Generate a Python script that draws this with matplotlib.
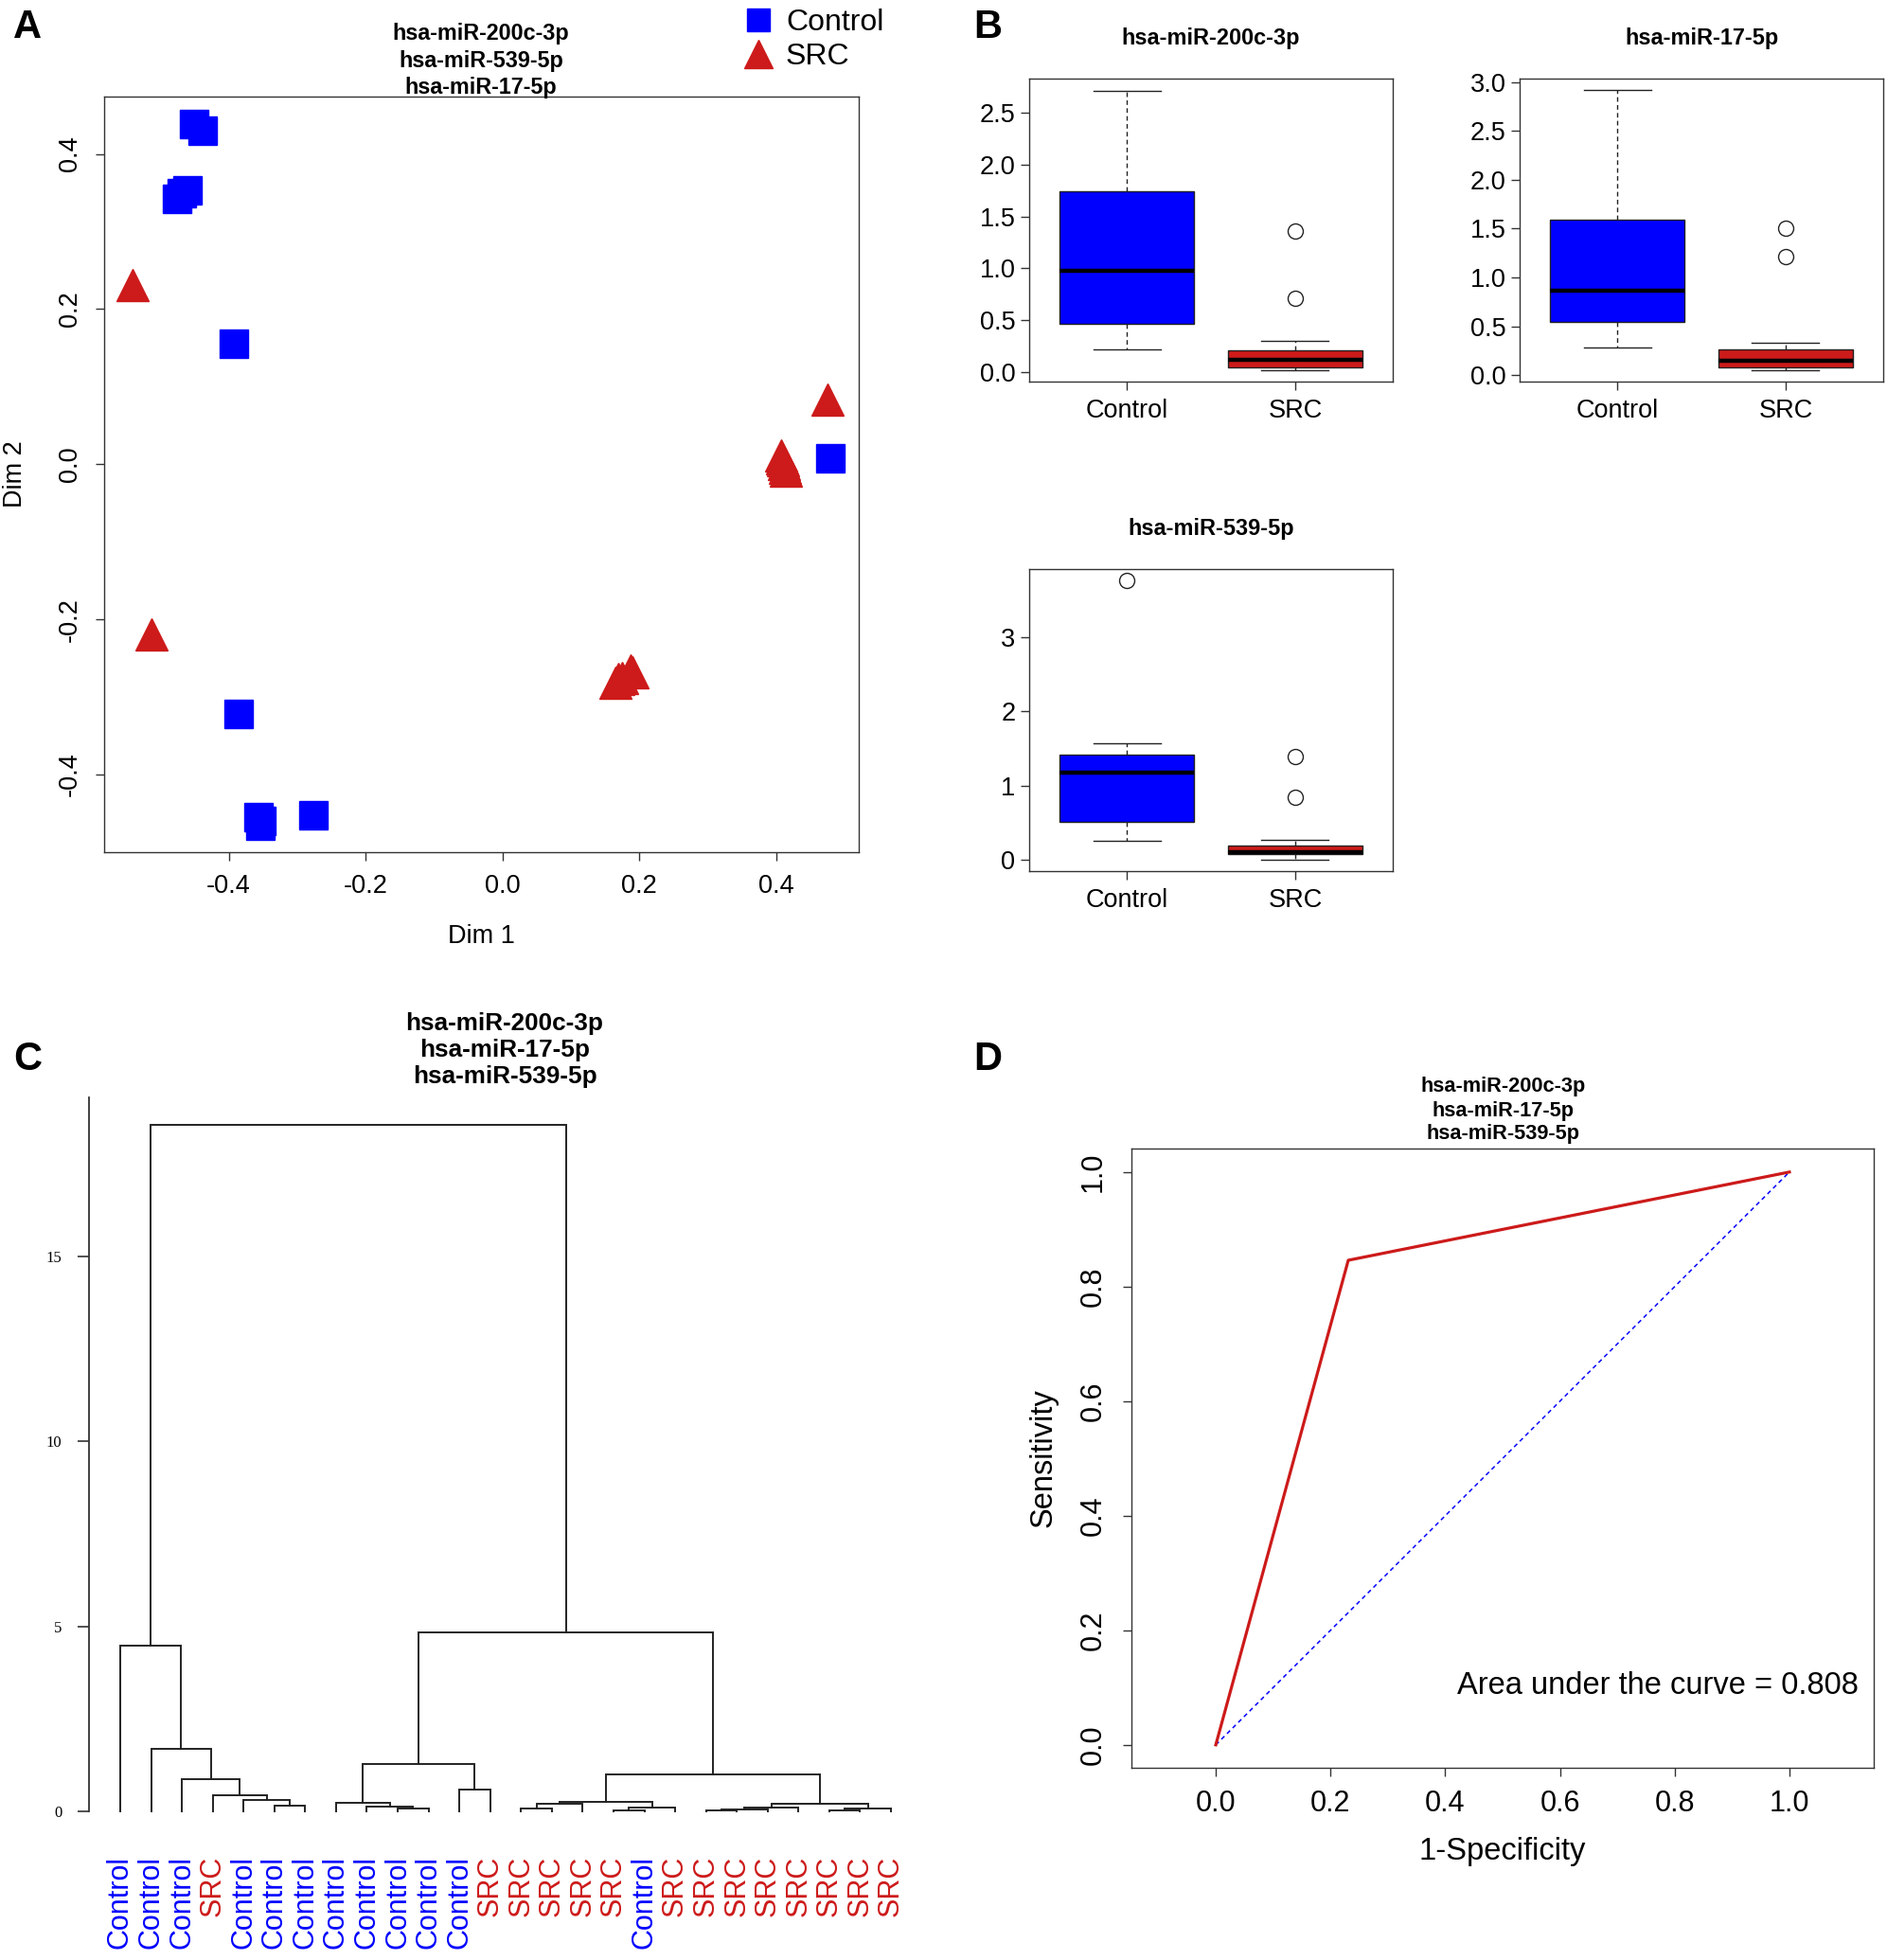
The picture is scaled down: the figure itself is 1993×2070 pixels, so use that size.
import matplotlib
matplotlib.use('Agg')
import matplotlib.pyplot as plt
import numpy as np

plt.rcParams['font.family'] = ['Liberation Sans', 'DejaVu Sans']

W, H = 1993, 2070
BLUE = '#0000FF'
RED = '#CD1A1A'

# ---- data -------------------------------------------------------------
# A: MDS coordinates
ctrl_x = [-0.450, -0.438, -0.475, -0.468, -0.460, -0.392, -0.385,
          -0.356, -0.352, -0.354, -0.276, 0.479]
ctrl_y = [0.438, 0.430, 0.342, 0.350, 0.353, 0.155, -0.322,
          -0.455, -0.460, -0.466, -0.452, 0.008]
src_x = [-0.541, -0.513, 0.408, 0.410, 0.413, 0.415, 0.411, 0.409,
         0.476, 0.165, 0.170, 0.175, 0.187, 0.190]
src_y = [0.231, -0.219, 0.012, 0.005, -0.004, -0.008, 0.000, 0.008,
         0.083, -0.281, -0.277, -0.275, -0.266, -0.268]

title3_A = "hsa-miR-200c-3p\nhsa-miR-539-5p\nhsa-miR-17-5p"
title3_C = "hsa-miR-200c-3p\nhsa-miR-17-5p\nhsa-miR-539-5p"

# B: box plot summaries (whislo, q1, med, q3, whishi, outliers)
mirnas = ["hsa-miR-200c-3p", "hsa-miR-17-5p", "hsa-miR-539-5p"]
box_ctrl = [[0.22, 0.47, 0.98, 1.74, 2.71, []],
            [0.28, 0.54, 0.86, 1.59, 2.92, []],
            [0.26, 0.51, 1.18, 1.42, 1.57, [3.77]]]
box_src = [[0.02, 0.05, 0.12, 0.21, 0.30, [0.71, 1.36]],
           [0.05, 0.08, 0.15, 0.26, 0.33, [1.21, 1.50]],
           [0.00, 0.08, 0.10, 0.20, 0.27, [0.84, 1.40]]]
groups = ["Control", "SRC"]

# C: hierarchical clustering (R style merge table; negative = leaf)
leaf_labels = (["Control"] * 3 + ["SRC"] + ["Control"] * 8 + ["SRC"] * 5
               + ["Control"] + ["SRC"] * 8)
merges = [(-6, -7, 0.15), (-5, 1, 0.30), (-4, 2, 0.44), (-3, 3, 0.86),
          (-2, 4, 1.68), (-1, 5, 4.48),
          (-10, -11, 0.07), (-9, 7, 0.14), (-8, 8, 0.23), (-12, -13, 0.58),
          (9, 10, 1.28),
          (-14, -15, 0.085), (12, -16, 0.21), (-17, -18, 0.03), (14, -19, 0.10),
          (13, 15, 0.25),
          (-20, -21, 0.02), (17, -22, 0.06), (18, -23, 0.10),
          (-24, -25, 0.02), (20, -26, 0.07), (19, 21, 0.21),
          (16, 22, 1.01), (11, 23, 4.83), (6, 24, 18.55)]

# D: ROC curve
fpr = [0.0, 0.231, 1.0]
tpr = [0.0, 0.846, 1.0]
auc = 0.808


def rect(l, t, r, b):
    return [l / W, 1 - b / H, (r - l) / W, (b - t) / H]


def r_style(ax, fs=19.5):
    for s in ax.spines.values():
        s.set_linewidth(1.0)
        s.set_color('#333333')
    ax.tick_params(direction='out', length=6.5, width=1.0, labelsize=fs,
                   top=False, right=False, color='#333333')


fig = plt.figure(figsize=(W / 100, H / 100), dpi=100)

# ---- A ----------------------------------------------------------------
axA = fig.add_axes(rect(110, 102, 907, 900))
axA.plot(ctrl_x, ctrl_y, 's', color=BLUE, ms=21, mec=BLUE, label='Control')
axA.plot(src_x, src_y, '^', color=RED, ms=25, mec=RED, label='SRC')
axA.set_xlim(-0.582, 0.521)
axA.set_ylim(-0.50, 0.474)
axA.set_xticks([-0.4, -0.2, 0.0, 0.2, 0.4])
axA.set_yticks([-0.4, -0.2, 0.0, 0.2, 0.4])
axA.set_xticklabels(['-0.4', '-0.2', '0.0', '0.2', '0.4'])
axA.set_yticklabels(['-0.4', '-0.2', '0.0', '0.2', '0.4'],
                    rotation=90, va='center')
r_style(axA)
axA.tick_params(axis='x', pad=10)
axA.tick_params(axis='y', pad=10)
axA.set_xlabel('Dim 1', fontsize=19.5)
axA.set_ylabel('Dim 2', fontsize=19.5)
axA.xaxis.set_label_coords(0.5, -0.111)
axA.xaxis.label.set_va('center')
axA.yaxis.set_label_coords(-0.118, 0.5)
axA.yaxis.label.set_va('center')
leg = axA.legend(loc='center left', bbox_to_anchor=(766 / W, 1 - 42 / H),
                 bbox_transform=fig.transFigure, frameon=False, fontsize=23,
                 markerscale=0.85, handletextpad=0.3, labelspacing=0.2,
                 handlelength=1.2, borderpad=0)
fig.text(508 / W, 1 - 64 / H, title3_A, ha='center', va='center',
         fontsize=16.8, fontweight='bold', linespacing=1.3)

# ---- B ----------------------------------------------------------------
b_rects = [(1087, 83, 1471, 403), (1605, 83, 1989, 403), (1087, 601, 1471, 920)]
b_ylims = [(-0.091, 2.83), (-0.067, 3.035), (-0.15, 3.92)]
b_ticks = [np.arange(0, 2.51, 0.5), np.arange(0, 3.01, 0.5), np.arange(0, 3.1, 1)]
b_fmt = ['%.1f', '%.1f', '%d']
b_title_y = [41, 41, 558]
for i in range(3):
    ax = fig.add_axes(rect(*b_rects[i]))
    stats = []
    for g, row in zip(groups, [box_ctrl[i], box_src[i]]):
        stats.append(dict(label=g, whislo=row[0], q1=row[1], med=row[2],
                          q3=row[3], whishi=row[4], fliers=row[5]))
    bp = ax.bxp(stats, positions=[1, 2], widths=0.8, capwidths=0.4,
                patch_artist=True, showfliers=True,
                boxprops=dict(edgecolor='#222222', linewidth=1.0),
                whiskerprops=dict(color='#222222', linewidth=1.0,
                                  linestyle=(0, (3.5, 2.5))),
                capprops=dict(color='#222222', linewidth=1.0),
                medianprops=dict(color='black', linewidth=3.2),
                flierprops=dict(marker='o', mfc='none', mec='#222222',
                                ms=11.5, mew=1.0))
    for patch, c in zip(bp['boxes'], [BLUE, RED]):
        patch.set_facecolor(c)
    ax.set_xlim(0.42, 2.58)
    ax.set_ylim(*b_ylims[i])
    ax.set_yticks(b_ticks[i])
    ax.set_yticklabels([b_fmt[i] % v for v in b_ticks[i]])
    ax.set_xticks([1, 2])
    ax.set_xticklabels(groups)
    r_style(ax)
    ax.tick_params(axis='x', pad=6.5)
    ax.tick_params(axis='y', pad=4)
    cx = (b_rects[i][0] + b_rects[i][2]) / 2
    fig.text(cx / W, 1 - b_title_y[i] / H, mirnas[i], ha='center',
             va='center', fontsize=16.9, fontweight='bold')

# ---- C ----------------------------------------------------------------
axC = fig.add_axes(rect(94, 1159, 960, 1913))
pos = {}


def node_xy(k):
    if k < 0:
        return (-k, 0.0)
    return pos[k]


for i, (a, b, h) in enumerate(merges, start=1):
    xa, ya = node_xy(a)
    xb, yb = node_xy(b)
    axC.plot([xa, xa, xb, xb], [ya, h, h, yb], color='#222222', lw=1.4,
             clip_on=False, solid_joinstyle='miter')
    pos[i] = ((xa + xb) / 2, h)

axC.set_xlim(1 - 33 / 32.56, 1 + (960 - 127) / 32.56)
axC.set_ylim(0, (1913 - 1159) / 39.07)
for s in ['top', 'right', 'bottom']:
    axC.spines[s].set_visible(False)
axC.spines['left'].set_linewidth(1.3)
axC.spines['left'].set_color('#333333')
axC.set_yticks([0, 5, 10, 15])
axC.set_yticklabels(['0', '5', '10', '15'], family='Liberation Serif',
                    fontsize=12)
axC.tick_params(axis='y', direction='out', length=8.5, width=1.2, pad=12,
                color='#333333')
axC.set_xticks(np.arange(1, len(leaf_labels) + 1))
axC.set_xticklabels(leaf_labels, rotation=90, fontsize=22)
axC.tick_params(axis='x', length=0, pad=34)
for t, lab in zip(axC.get_xticklabels(), leaf_labels):
    t.set_color(BLUE if lab == 'Control' else RED)
fig.text(533 / W, 1 - 1109 / H, title3_C, ha='center', va='center',
         fontsize=18.8, fontweight='bold', linespacing=1.22)

# ---- D ----------------------------------------------------------------
axD = fig.add_axes(rect(1195, 1213, 1979, 1867))
axD.plot([0, 1], [0, 1], color=BLUE, lw=1.1, linestyle=(0, (3, 2.5)))
axD.plot(fpr, tpr, color=RED, lw=2.3)
axD.set_xlim(-0.147, 1.147)
axD.set_ylim(-0.04, 1.041)
ticksD = np.arange(0, 1.01, 0.2)
axD.set_xticks(ticksD)
axD.set_yticks(ticksD)
axD.set_xticklabels(['%.1f' % v for v in ticksD])
axD.set_yticklabels(['%.1f' % v for v in ticksD], rotation=90, va='center')
r_style(axD, fs=22)
axD.tick_params(axis='x', pad=10)
axD.tick_params(axis='y', pad=12)
axD.set_xlabel('1-Specificity', fontsize=23.5)
axD.set_ylabel('Sensitivity', fontsize=23.5)
axD.xaxis.set_label_coords(0.5, -0.136)
axD.xaxis.label.set_va('center')
axD.yaxis.set_label_coords(-0.1186, 0.5)
axD.yaxis.label.set_va('center')
axD.text(0.98, 0.133, 'Area under the curve = %.3f' % auc,
         transform=axD.transAxes, ha='right', va='center', fontsize=23.5)
fig.text(1588 / W, 1 - 1173 / H, title3_C, ha='center', va='center',
         fontsize=15.7, fontweight='bold', linespacing=1.25)

# ---- panel letters ----------------------------------------------------
for letter, (x, y) in zip('ABCD', [(29, 29), (1043, 29), (29, 1119), (1043, 1119)]):
    fig.text(x / W, 1 - y / H, letter, ha='center', va='center',
             fontsize=30, fontweight='bold')

fig.savefig('out.png', dpi=100)
